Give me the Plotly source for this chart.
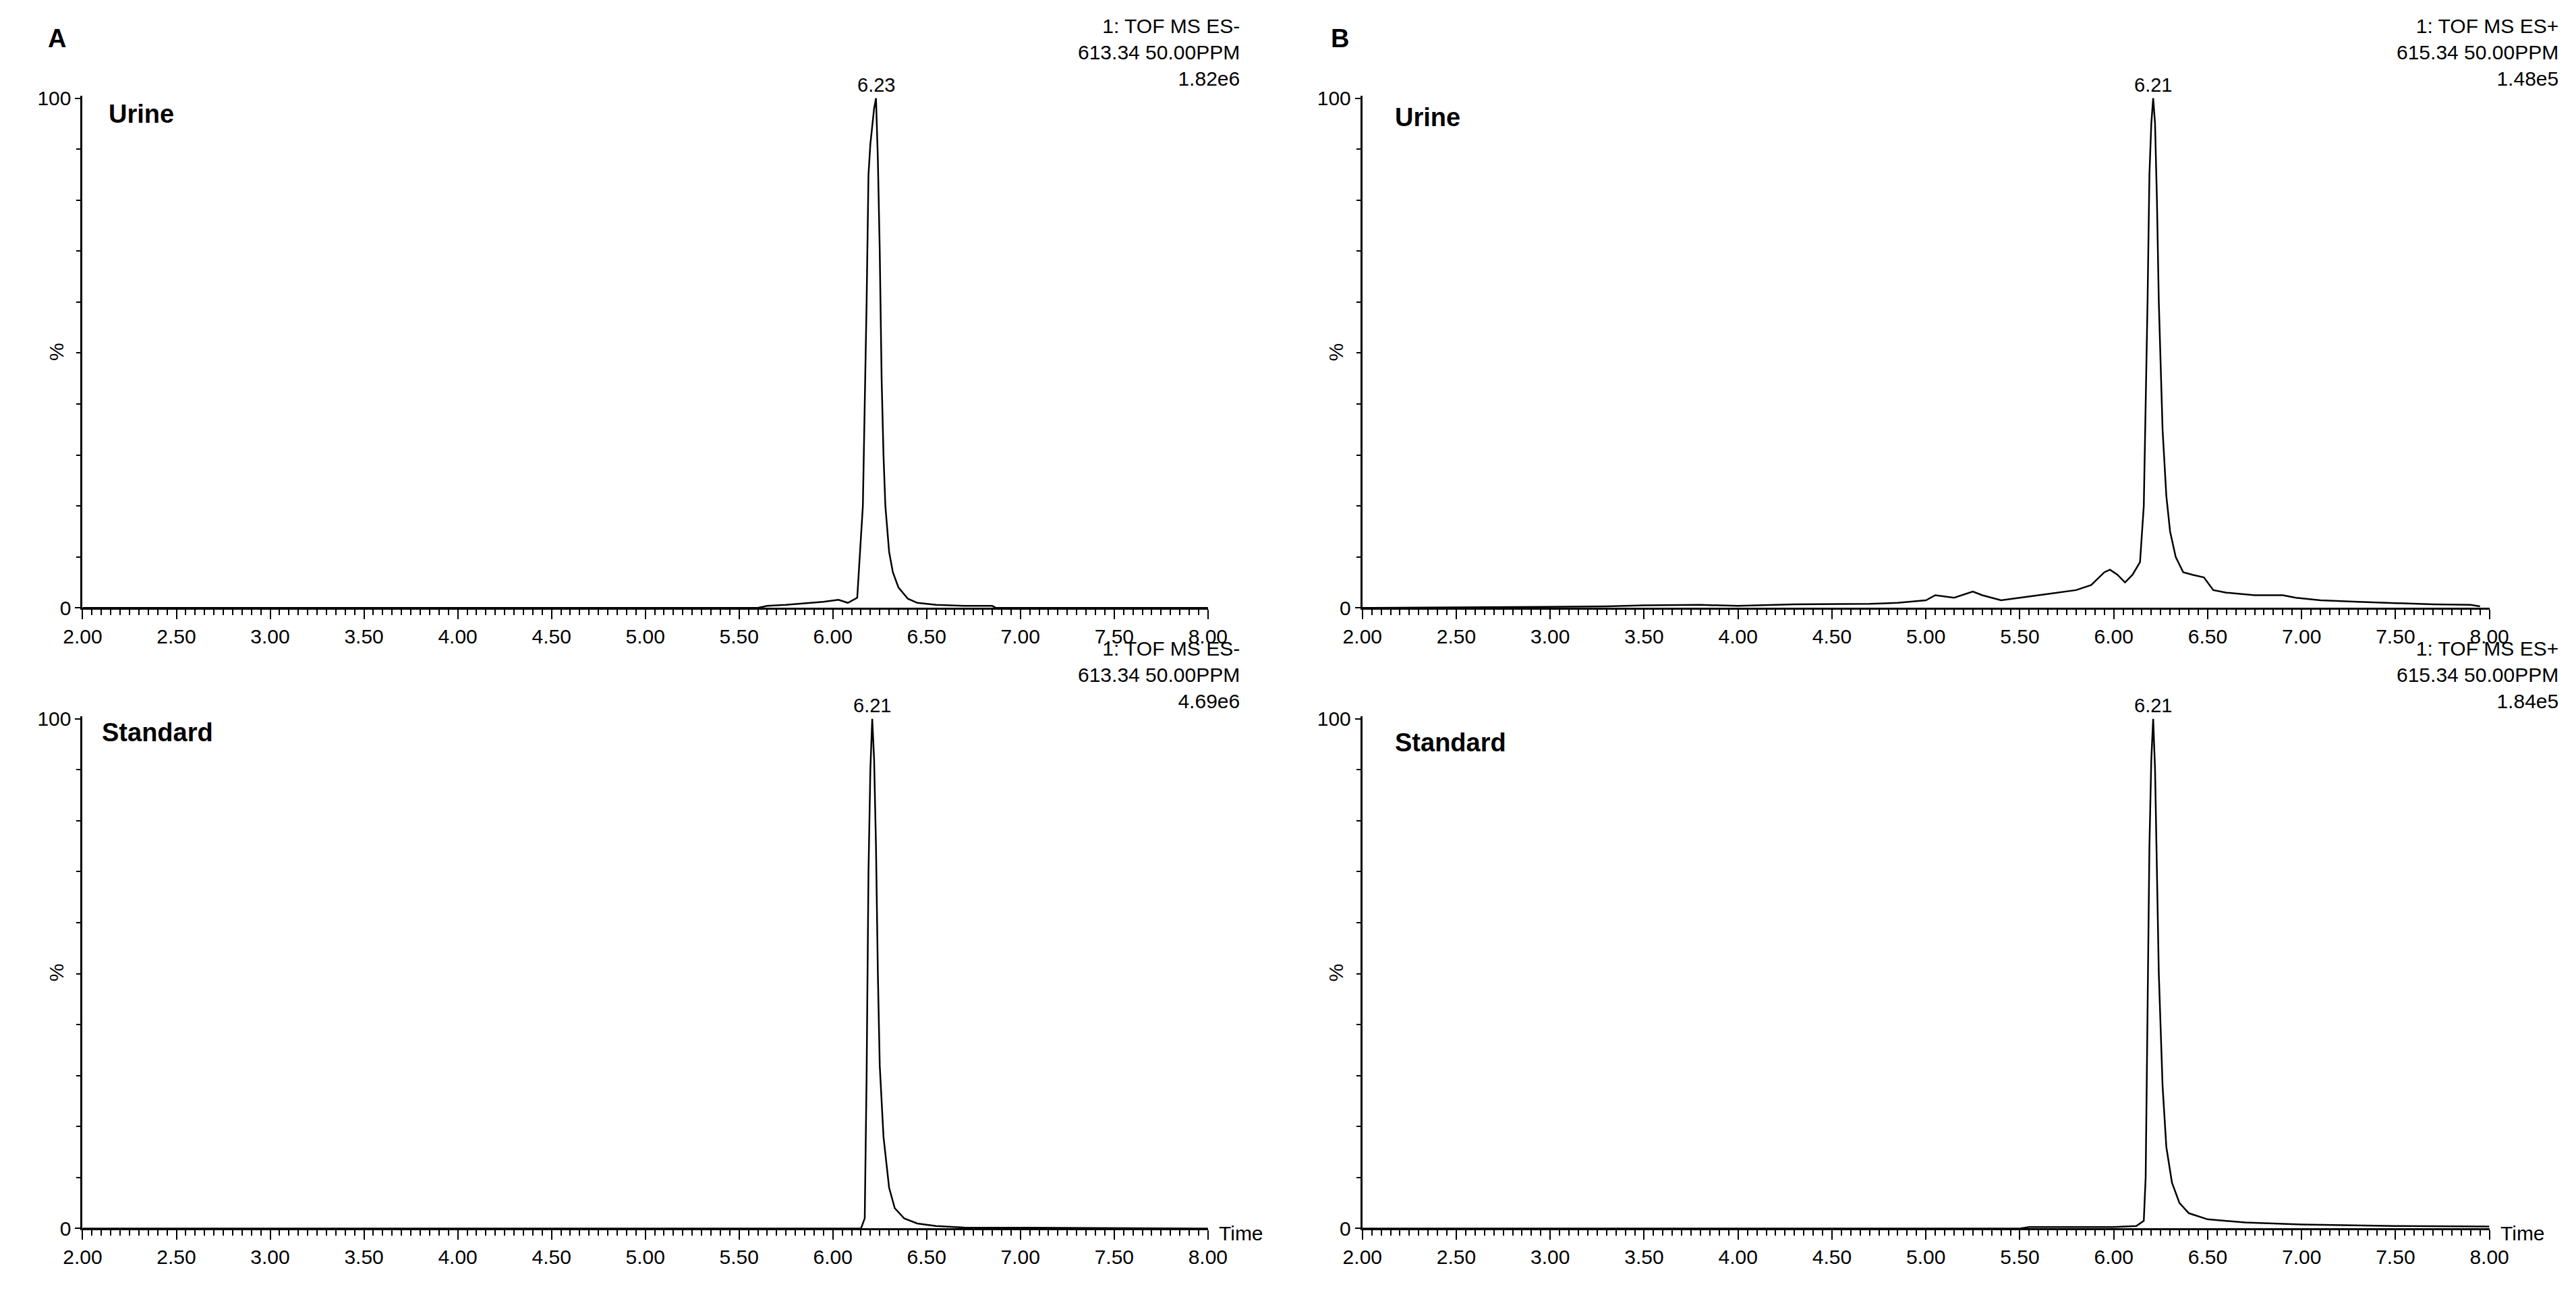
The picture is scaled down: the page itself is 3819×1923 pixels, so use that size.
import plotly.graph_objects as go

W, H = 3819, 1923
SW, SH = 1568, 790  # reference thumbnail scale used for layout reading

# ---- data (time in min, relative intensity %) ----
a_urine_t = [2.00, 5.60, 5.65, 5.75, 5.85, 5.95, 6.03, 6.08, 6.13, 6.16, 6.18, 6.19, 6.20, 6.21, 6.22, 6.23, 6.24, 6.25, 6.26, 6.27, 6.28, 6.30, 6.32, 6.35, 6.40, 6.45, 6.55, 6.70, 6.85, 6.87, 8.00]
a_urine_y = [0.0, 0.0, 0.4, 0.6, 0.9, 1.2, 1.6, 1.0, 2.0, 20.0, 60.0, 85.0, 91.0, 95.0, 98.0, 100.0, 88.0, 70.0, 45.0, 30.0, 20.0, 11.0, 7.0, 4.0, 1.8, 1.0, 0.6, 0.4, 0.4, 0.0, 0.0]

a_std_t = [2.00, 6.15, 6.17, 6.18, 6.19, 6.20, 6.21, 6.22, 6.23, 6.24, 6.25, 6.27, 6.30, 6.33, 6.38, 6.45, 6.55, 6.70, 8.00]
a_std_y = [0.0, 0.0, 2.0, 30.0, 70.0, 90.0, 100.0, 92.0, 75.0, 50.0, 32.0, 18.0, 8.0, 4.0, 2.0, 1.0, 0.5, 0.2, 0.0]

b_urine_t = [2.00, 3.30, 3.50, 3.80, 4.00, 4.30, 4.70, 4.85, 5.00, 5.05, 5.15, 5.25, 5.30, 5.40, 5.50, 5.60, 5.70, 5.80, 5.88, 5.95, 5.98, 6.02, 6.06, 6.10, 6.14, 6.16, 6.18, 6.19, 6.20, 6.21, 6.22, 6.23, 6.24, 6.26, 6.28, 6.30, 6.33, 6.37, 6.42, 6.48, 6.53, 6.60, 6.75, 6.90, 6.97, 7.10, 7.30, 7.50, 7.70, 7.90, 7.95]
b_urine_y = [0.0, 0.3, 0.5, 0.6, 0.4, 0.7, 0.8, 1.0, 1.5, 2.5, 2.0, 3.2, 2.5, 1.5, 2.0, 2.5, 3.0, 3.5, 4.5, 7.0, 7.5, 6.5, 5.0, 6.5, 9.0, 20.0, 60.0, 85.0, 95.0, 100.0, 95.0, 80.0, 60.0, 35.0, 22.0, 15.0, 10.0, 7.0, 6.5, 6.0, 3.5, 3.0, 2.5, 2.5, 2.0, 1.5, 1.2, 0.9, 0.7, 0.6, 0.3]

b_std_t = [2.00, 5.50, 5.55, 6.00, 6.12, 6.16, 6.17, 6.18, 6.19, 6.20, 6.21, 6.22, 6.23, 6.24, 6.26, 6.28, 6.31, 6.35, 6.40, 6.50, 6.70, 7.00, 7.50, 8.00]
b_std_y = [0.0, 0.0, 0.3, 0.3, 0.5, 1.5, 10.0, 40.0, 75.0, 92.0, 100.0, 90.0, 70.0, 50.0, 28.0, 16.0, 9.0, 5.0, 3.0, 1.8, 1.2, 0.8, 0.5, 0.4]

peak_labels = ["6.23", "6.21", "6.21", "6.21"]
peak_times = [6.23, 6.21, 6.21, 6.21]
headers = ["1: TOF MS ES-<br>613.34 50.00PPM<br>1.82e6",
           "1: TOF MS ES-<br>613.34 50.00PPM<br>4.69e6",
           "1: TOF MS ES+<br>615.34 50.00PPM<br>1.48e5",
           "1: TOF MS ES+<br>615.34 50.00PPM<br>1.84e5"]
sample_labels = ["Urine", "Standard", "Urine", "Standard"]
x_ticks = [2.0, 2.5, 3.0, 3.5, 4.0, 4.5, 5.0, 5.5, 6.0, 6.5, 7.0, 7.5, 8.0]
x_ticklabels = ["%.2f" % v for v in x_ticks]

FONT = "Liberation Sans, Arial, sans-serif"
px = lambda x: x / SW
py = lambda y: 1 - y / SH

# panels: (xl, xr, ytop, ybot) in thumbnail pixels
panels = [(47, 732, 55, 367), (47, 732, 433, 745), (826, 1512, 55, 367), (826, 1512, 433, 745)]
series = [(a_urine_t, a_urine_y), (a_std_t, a_std_y), (b_urine_t, b_urine_y), (b_std_t, b_std_y)]
label_pos = [(62, 66), (58, 443), (845, 68), (845, 449)]
header_top = [5, 384, 5, 384]

fig = go.Figure()
ann = []
for i, ((xl, xr, yt, yb), (t, y)) in enumerate(zip(panels, series)):
    n = i + 1
    xa = "xaxis" if n == 1 else f"xaxis{n}"
    ya = "yaxis" if n == 1 else f"yaxis{n}"
    fig.add_trace(go.Scatter(x=t, y=y, mode="lines", line=dict(color="black", width=2.5),
                             xaxis=f"x{'' if n == 1 else n}", yaxis=f"y{'' if n == 1 else n}",
                             showlegend=False, hoverinfo="skip"))
    fig.layout[xa] = dict(domain=[px(xl), px(xr)], anchor=f"y{'' if n == 1 else n}", range=[2, 8],
                          automargin=False,
                          showline=True, linecolor="black", linewidth=3, showgrid=False, zeroline=False,
                          tickvals=x_ticks, ticktext=x_ticklabels, ticks="outside", ticklen=14, tickwidth=2,
                          tickcolor="black", minor=dict(dtick=0.05, ticklen=8, tickwidth=2, tickcolor="black", ticks="outside"),
                          tickfont=dict(family=FONT, size=30, color="black"))
    fig.layout[ya] = dict(domain=[py(yb), py(yt)], anchor=f"x{'' if n == 1 else n}", range=[0, 100.5],
                          automargin=False,
                          showline=True, linecolor="black", linewidth=3, showgrid=False, zeroline=False,
                          tickvals=[0, 100], ticktext=["0", "100"], ticks="outside", ticklen=8, tickwidth=2,
                          tickcolor="black", minor=dict(dtick=10, ticklen=6, tickwidth=2, tickcolor="black", ticks="outside"),
                          tickfont=dict(family=FONT, size=30, color="black"))
    xr_ref = f"x{'' if n == 1 else n}"
    yr_ref = f"y{'' if n == 1 else n}"
    ann.append(dict(x=peak_times[i], y=100, xref=xr_ref, yref=yr_ref, text=peak_labels[i], showarrow=False,
                    yanchor="bottom", yshift=2, font=dict(family=FONT, size=29, color="black")))
    ann.append(dict(x=px(752 if i < 2 else 1555), y=py(header_top[i]), xref="paper", yref="paper", text=headers[i],
                    showarrow=False, xanchor="right", yanchor="top", align="right",
                    font=dict(family=FONT, size=30, color="black")))
    lx, ly = label_pos[i]
    ann.append(dict(x=px(lx), y=py(ly), xref="paper", yref="paper", text=f"<b>{sample_labels[i]}</b>",
                    showarrow=False, xanchor="left", yanchor="middle", font=dict(family=FONT, size=38, color="black")))
    ann.append(dict(x=px(xl - 16), y=py((yt + yb) / 2), xref="paper", yref="paper", text="%", textangle=-90,
                    showarrow=False, xanchor="center", yanchor="middle", font=dict(family=FONT, size=30, color="black")))
    if i in (1, 3):
        ann.append(dict(x=px(xr + 6), y=py(748), xref="paper", yref="paper", text="Time", showarrow=False,
                        xanchor="left", yanchor="middle", font=dict(family=FONT, size=30, color="black")))

ann.append(dict(x=px(25), y=py(20), xref="paper", yref="paper", text="<b>A</b>", showarrow=False,
                xanchor="left", yanchor="middle", font=dict(family=FONT, size=38, color="black")))
ann.append(dict(x=px(806), y=py(20), xref="paper", yref="paper", text="<b>B</b>", showarrow=False,
                xanchor="left", yanchor="middle", font=dict(family=FONT, size=38, color="black")))

fig.update_layout(width=W, height=H, margin=dict(l=0, r=0, t=0, b=0, autoexpand=False), paper_bgcolor="white",
                  plot_bgcolor="white", annotations=ann)
fig.write_html("out.html")
